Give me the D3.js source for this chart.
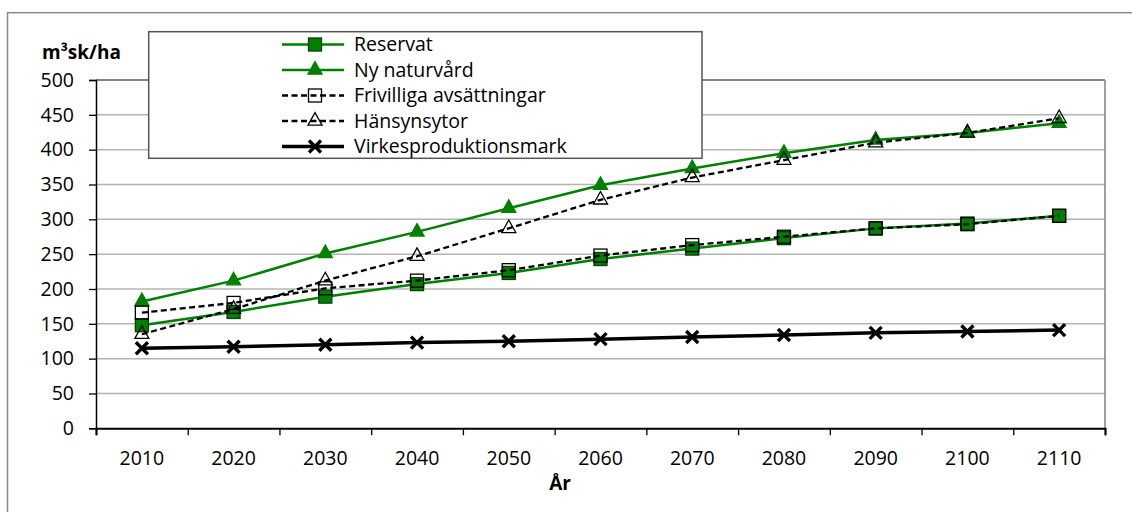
<!DOCTYPE html>
<html><head><meta charset="utf-8">
<script src="https://cdn.jsdelivr.net/npm/d3@7"></script>
<style>body{margin:0;background:#fff}svg{display:block;font-family:"Open Sans",Lato,sans-serif}</style>
</head><body><svg id="c" width="1132" height="512"></svg>
<script>
const years = ["2010","2020","2030","2040","2050","2060","2070","2080","2090","2100","2110"];
const reservat    = [148,167,189,207,223,243,258,273,287,294,305];
const nyNaturvard = [182,212,251,282,316,349,373,395,414,424,438];
const frivilliga  = [166,180,201,212,227,248,263,275,287,293,305];
const hansynsytor = [135,171,212,247,287,328,360,385,410,424,445];
const virkes      = [115,117,120,123,125,128,131,134,137,139,141];
const yTicks = [0,50,100,150,200,250,300,350,400,450,500];
const seriesNames = ["Reservat","Ny naturvård","Frivilliga avsättningar","Hänsynsytor","Virkesproduktionsmark"];

const FONT = "Open Sans", FS = 19.5;
const svg = d3.select("#c");
const L = 96, R = 1105, T = 80, B = 428.3;
const x = d3.scaleBand().domain(years).range([L, R]);
const xb = d3.scaleLinear().domain([0, years.length]).range([L, R]);
const y = d3.scaleLinear().domain([0, 500]).range([B, T]);

// outer chart border
svg.append("rect").attr("x",7.5).attr("y",12.7).attr("width",1300).attr("height",700)
  .attr("fill","none").attr("stroke","#8a8a8a").attr("stroke-width",1.5);

// gridlines
svg.append("g").selectAll("line").data(yTicks.filter(v=>v>0)).join("line")
  .attr("x1",L).attr("x2",R).attr("y1",d=>y(d)).attr("y2",d=>y(d))
  .attr("stroke",d=>d===500?"#5a5a5a":"#b4b4b4").attr("stroke-width",1.5);
// right plot border
svg.append("line").attr("x1",R).attr("x2",R).attr("y1",T).attr("y2",B)
  .attr("stroke","#808080").attr("stroke-width",1.5);

// y axis
const ya = svg.append("g").attr("transform",`translate(${L},0)`)
  .call(d3.axisLeft(y).tickValues(yTicks).tickSize(7).tickPadding(15));
ya.select(".domain").attr("stroke","#000").attr("stroke-width",1.5);
ya.selectAll(".tick line").attr("stroke","#000").attr("stroke-width",1.3);
ya.selectAll("text").attr("font-size",FS).attr("fill","#000").attr("font-family",FONT);

// x axis ticks at band boundaries
const xt = svg.append("g").attr("transform",`translate(0,${B})`)
  .call(d3.axisBottom(xb).tickValues(d3.range(years.length+1)).tickSize(7).tickFormat(""));
xt.select(".domain").attr("stroke","#000").attr("stroke-width",2);
xt.selectAll(".tick line").attr("stroke","#000").attr("stroke-width",1.3);
const xl = svg.append("g").attr("transform",`translate(0,${B})`)
  .call(d3.axisBottom(x).tickSize(0).tickPadding(23));
xl.select(".domain").remove();
xl.selectAll("text").attr("font-size",FS).attr("fill","#000").attr("font-family",FONT);

// axis titles
svg.append("text").attr("x",42).attr("y",59).attr("font-size",19).attr("font-weight","bold").text("m³sk/ha");
svg.append("text").attr("x",560).attr("y",490).attr("text-anchor","middle").attr("font-size",19).attr("font-weight","bold").text("År");

const GREEN = "#008000";
const styles = [
  {data:reservat, stroke:GREEN, dash:null, w:2.5, marker:"square", fill:GREEN, mstroke:"#0b3d0b"},
  {data:nyNaturvard, stroke:GREEN, dash:null, w:2.5, marker:"triangle", fill:GREEN, mstroke:GREEN},
  {data:frivilliga, stroke:"#000", dash:"6,3.5", w:2.3, marker:"square", fill:"none", mstroke:"#000"},
  {data:hansynsytor, stroke:"#000", dash:"6,3.5", w:2.3, marker:"triangle", fill:"none", mstroke:"#000"},
  {data:virkes, stroke:"#000", dash:null, w:3.5, marker:"x", fill:"none", mstroke:"#000"}
];

function drawMarker(g, type, cx, cy, s){
  if(type==="square"){
    g.append("rect").attr("x",cx-6.5).attr("y",cy-6.5).attr("width",13).attr("height",13)
      .attr("fill",s.fill).attr("stroke",s.mstroke).attr("stroke-width",1.3);
  } else if(type==="triangle"){
    const h=12.5, hw=7;
    g.append("path").attr("d",`M${cx},${cy-h*2/3}L${cx+hw},${cy+h/3}L${cx-hw},${cy+h/3}Z`)
      .attr("fill",s.fill).attr("stroke",s.mstroke).attr("stroke-width",1.3);
  } else {
    const r=6;
    g.append("path").attr("d",`M${cx-r},${cy-r}L${cx+r},${cy+r}M${cx+r},${cy-r}L${cx-r},${cy+r}`)
      .attr("stroke","#000").attr("stroke-width",3.4).attr("fill","none");
  }
}

const line = d3.line().x((d,i)=>x(years[i])+x.bandwidth()/2).y(d=>y(d));
styles.forEach(s=>{
  const g = svg.append("g");
  g.append("path").attr("d",line(s.data)).attr("fill","none").attr("stroke",s.stroke)
    .attr("stroke-width",s.w).attr("stroke-dasharray",s.dash);
  s.data.forEach((v,i)=>drawMarker(g, s.marker, x(years[i])+x.bandwidth()/2, y(v), s));
});

// legend
const lg = svg.append("g");
lg.append("rect").attr("x",148.7).attr("y",31.7).attr("width",553.3).attr("height",126.6)
  .attr("fill","#fff").attr("stroke","#555").attr("stroke-width",1.5);
styles.forEach((s,i)=>{
  const cy = 44.5 + i*25.5;
  lg.append("line").attr("x1",282).attr("x2",344).attr("y1",cy).attr("y2",cy)
    .attr("stroke",s.stroke).attr("stroke-width",s.w).attr("stroke-dasharray",s.dash);
  drawMarker(lg, s.marker, 315, cy, s);
  lg.append("text").attr("x",354).attr("y",cy).attr("dy","0.35em").attr("font-size",FS).text(seriesNames[i]);
});
</script></body></html>
